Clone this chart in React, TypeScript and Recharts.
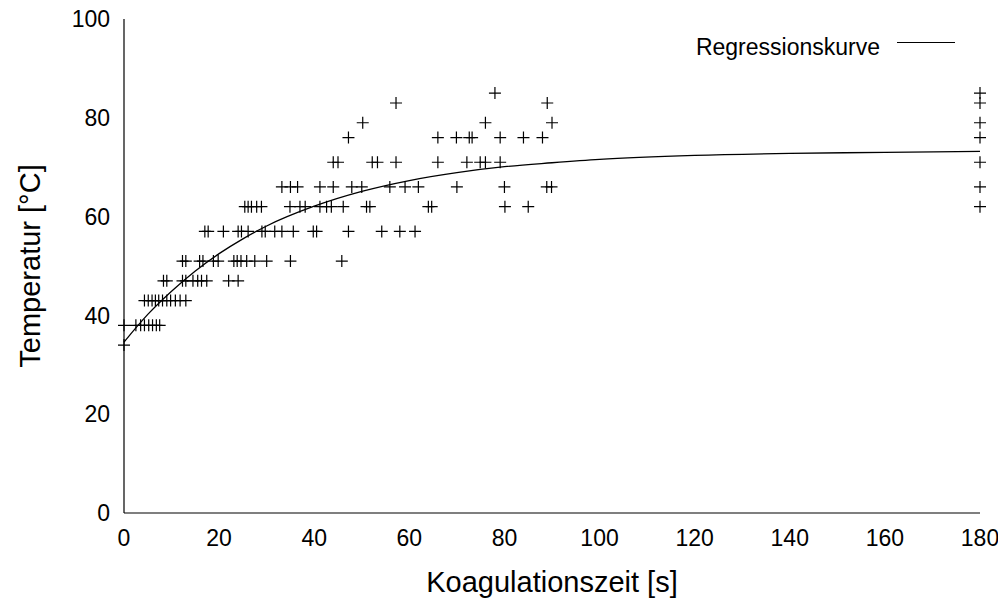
import { ComposedChart, Scatter, Line, XAxis, YAxis } from 'recharts';

// Temperaturstufen der Messpunkte (°C) und die zugehörigen Koagulationszeiten (s)
const stufen = [34, 38, 43, 47, 51, 57, 62, 66, 71, 76, 79, 83, 85];
const zeiten34 = [0];
const zeiten38 = [0, 2.5, 3.5, 4.3, 5.2, 6, 6.8, 7.5];
const zeiten43 = [4.3, 5.1, 5.9, 6.6, 7.3, 8.1, 9, 9.8, 10.8, 11.8, 13];
const zeiten47 = [8.3, 9, 12.3, 13, 14.5, 15.5, 16.3, 17.4, 22, 24];
const zeiten51 = [12.3, 13, 15.9, 16.6, 18.8, 19.8, 23.1, 23.8, 24.6, 25.8, 27.5, 30, 35, 45.8];
const zeiten57 = [17, 17.7, 20.9, 24, 24.7, 26.1, 29, 29.7, 31.7, 33.2, 35.6, 39.8, 40.5, 47.2, 54.2, 58, 61.2];
const zeiten62 = [25.4, 26.1, 26.8, 27.9, 28.9, 34.9, 37, 38.1, 41.2, 42.6, 43.6, 46.1, 51, 51.7, 64, 64.7, 80.1, 85];
const zeiten66 = [33.2, 35, 36.5, 41.2, 44, 47.9, 50, 55.9, 59.1, 61.9, 70, 80, 88.9, 89.9];
const zeiten71 = [44, 45, 52.2, 53.3, 57.2, 66, 72.1, 74.9, 76, 79.1];
const zeiten76 = [47.2, 66, 69.9, 72.6, 73.2, 79.1, 84, 88];
const zeiten79 = [50.2, 76, 90];
const zeiten83 = [57.2, 89];
const zeiten85 = [78];
const zeitenJeStufe = [
  zeiten34, zeiten38, zeiten43, zeiten47, zeiten51, zeiten57, zeiten62,
  zeiten66, zeiten71, zeiten76, zeiten79, zeiten83, zeiten85,
];

// Messungen am rechten Rand (180 s)
const endZeit = 180;
const endTemperaturen = [62, 66, 71, 76, 79, 83, 85];

// Regressionskurve
const kurveZeit = [0, 5, 10, 15, 20, 25, 30, 40, 50, 60, 70, 80, 90, 100, 120, 140, 160, 180];
const kurveTemp = [34.6, 40.2, 44.9, 49.0, 52.5, 55.5, 58.1, 62.1, 65.1, 67.3, 68.9, 70.1, 70.9, 71.6, 72.4, 72.8, 73.0, 73.2];

const xTicks = [0, 20, 40, 60, 80, 100, 120, 140, 160, 180];
const yTicks = [0, 20, 40, 60, 80, 100];

const punkte = [
  ...stufen.flatMap((t, i) => zeitenJeStufe[i].map(z => ({ x: z, y: t }))),
  ...endTemperaturen.map(t => ({ x: endZeit, y: t })),
];
const kurve = kurveZeit.map((z, i) => ({ x: z, y: kurveTemp[i] }));

const FONT = '"Liberation Sans", Arial, sans-serif';

function Plus(props: any) {
  const { cx, cy } = props;
  if (cx == null || cy == null) return null;
  return (
    <path
      d={`M${cx - 6},${cy}h12M${cx},${cy - 6}v12`}
      stroke="#000"
      strokeWidth={1.2}
      fill="none"
    />
  );
}

// Legende als Overlay, damit sie keinen Platz im Diagramm reserviert
function LegendBox() {
  return (
    <svg
      width={280}
      height={40}
      style={{ position: 'absolute', left: 690, top: 27, display: 'block' }}
    >
      <text x={190} y={28} textAnchor="end" fontSize={23} fontFamily={FONT} fill="#000">
        Regressionskurve
      </text>
      <line x1={207} x2={265} y1={15.5} y2={15.5} stroke="#000" strokeWidth={1.2} />
    </svg>
  );
}

export default function App() {
  return (
    <div style={{ position: 'absolute', left: 0, top: 0, width: 998, height: 604, background: '#fff' }}>
      <ComposedChart
        width={998}
        height={604}
        margin={{ top: 19, right: 18, bottom: 0, left: 0 }}
        style={{ fontFamily: FONT }}
      >
        <XAxis
          dataKey="x"
          type="number"
          domain={[0, 180]}
          ticks={xTicks}
          height={91}
          tickLine={false}
          tickMargin={11}
          axisLine={{ stroke: '#000', strokeWidth: 1.2 }}
          tick={{ fontSize: 23, fill: '#000' }}
          label={(p: any) => {
            const vb = p.viewBox;
            return (
              <text x={vb.x + vb.width / 2} y={vb.y + 79} textAnchor="middle" fontSize={29} fill="#000" fontFamily={FONT}>
                Koagulationszeit [s]
              </text>
            );
          }}
        />
        <XAxis
          xAxisId="top"
          orientation="top"
          type="number"
          domain={[0, 180]}
          height={0}
          tick={false}
          tickLine={false}
          axisLine={{ stroke: '#000', strokeWidth: 1.2 }}
        />
        <YAxis
          type="number"
          domain={[0, 100]}
          ticks={yTicks}
          width={124}
          tickLine={false}
          tickMargin={8}
          axisLine={{ stroke: '#000', strokeWidth: 1.2 }}
          tick={{ fontSize: 23, fill: '#000' }}
          label={(p: any) => {
            const vb = p.viewBox;
            const lx = vb.x + 30;
            const ly = vb.y + vb.height / 2;
            return (
              <text
                x={lx}
                y={ly}
                transform={`rotate(-90 ${lx} ${ly})`}
                textAnchor="middle"
                dominantBaseline="central"
                fontSize={29}
                fill="#000"
                fontFamily={FONT}
              >
                Temperatur [°C]
              </text>
            );
          }}
        />
        <YAxis
          yAxisId="right"
          orientation="right"
          type="number"
          domain={[0, 100]}
          width={0}
          tick={false}
          tickLine={false}
          axisLine={{ stroke: '#000', strokeWidth: 1.2 }}
        />
        <Scatter data={punkte} dataKey="y" shape={Plus} isAnimationActive={false} legendType="none" />
        <Line
          data={kurve}
          dataKey="y"
          type="monotone"
          stroke="#000"
          strokeWidth={1.3}
          dot={false}
          activeDot={false}
          isAnimationActive={false}
        />
      </ComposedChart>
      <LegendBox />
    </div>
  );
}
